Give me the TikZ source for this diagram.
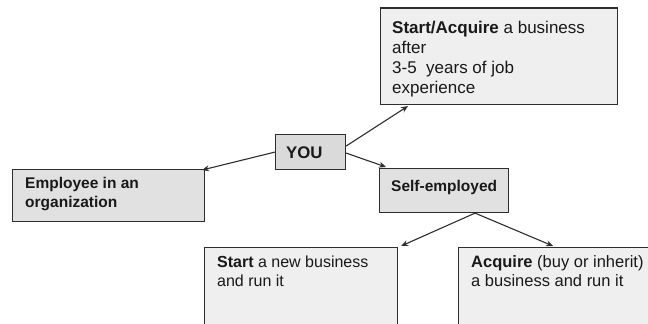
\documentclass[tikz,border=0pt]{standalone}
\usepackage{fontspec}
\setmainfont{Liberation Sans}
\usetikzlibrary{arrows.meta}
\definecolor{edge}{HTML}{2E2E2E}
\definecolor{lightbox}{HTML}{EFEFEF}
\definecolor{midbox}{HTML}{E1E1E1}
\definecolor{darkbox}{HTML}{DADADA}
\tikzset{
  boxA/.style={draw=edge, line width=1.1pt, fill=lightbox, inner sep=0pt},
  boxB/.style={draw=edge, line width=1.1pt, fill=midbox, inner sep=0pt},
  boxC/.style={draw=edge, line width=1.1pt, fill=darkbox, inner sep=0pt},
  lbl/.style={anchor=base west, inner sep=0pt, font=\fontsize{15}{20}\selectfont, text=black!90},
  fs/.style={font=\fontsize{#1}{20}\selectfont},
  conn/.style={draw=edge, line width=1.1pt, -{Stealth[length=7pt,width=6pt]}}
}
\begin{document}
\begin{tikzpicture}[x=1pt,y=-1pt]
\path[use as bounding box, clip] (0,0) rectangle (648,324);
\fill[white] (0,0) rectangle (648,324);
% boxes
\node[boxA, minimum width=237pt, minimum height=96pt, anchor=north west] (top) at (380,8) {};
\draw[edge, line width=2.4pt] (top.north west) -- (top.north east);
\node[boxC, minimum width=70pt, minimum height=35pt, anchor=north west] (you) at (275,134) {};
\node[boxB, minimum width=192pt, minimum height=52pt, anchor=north west] (emp) at (12,169) {};
\node[boxB, minimum width=129pt, minimum height=44pt, anchor=north west] (self) at (379,168) {};
\node[boxA, minimum width=193pt, minimum height=95pt, anchor=north west] (start) at (204,247) {};
\node[boxA, minimum width=210pt, minimum height=95pt, anchor=north west] (acq) at (458,247) {};
% texts
\node[lbl, fs=17] (t1) at (392,33) {\textbf{Start/Acquire} a business};
\node[lbl, fs=17] (t2) at (392,53) {after};
\node[lbl, fs=17] (t3) at (392,73) {3-5\ \ years of job};
\node[lbl, fs=17] (t4) at (392,93) {experience};
\node[lbl, fs=16.8] (tyou) at (286,158.5) {\textbf{YOU}};
\node[lbl, fs=15.5] (te1) at (25,188) {\textbf{Employee in an}};
\node[lbl, fs=15.5] (te2) at (25,207) {\textbf{organization}};
\node[lbl, fs=15.5] (tself) at (391,191) {\textbf{Self-employed}};
\node[lbl, fs=16] (ts1) at (217,267) {\textbf{Start} a new business};
\node[lbl, fs=16] (ts2) at (217,286) {and run it};
\node[lbl, fs=16.5] (ta1) at (471,267) {\textbf{Acquire} (buy or inherit)};
\node[lbl, fs=16.5] (ta2) at (471,286) {a business and run it};
% connectors
\draw[conn] ([yshift=6pt]you.east) -- ([xshift=28pt,yshift=-1pt]top.south west);
\draw[conn] ([yshift=-1pt]you.east) -- ([xshift=7pt,yshift=1pt]self.north west);
\draw[conn] (you.west) -- ([xshift=-3pt,yshift=-1pt]emp.north east);
\draw[conn] ([xshift=31pt]self.south) -- ([xshift=3pt,yshift=1pt]start.north east);
\draw[conn] ([xshift=31pt]self.south) -- ([xshift=95pt,yshift=1pt]acq.north west);
\end{tikzpicture}
\end{document}
